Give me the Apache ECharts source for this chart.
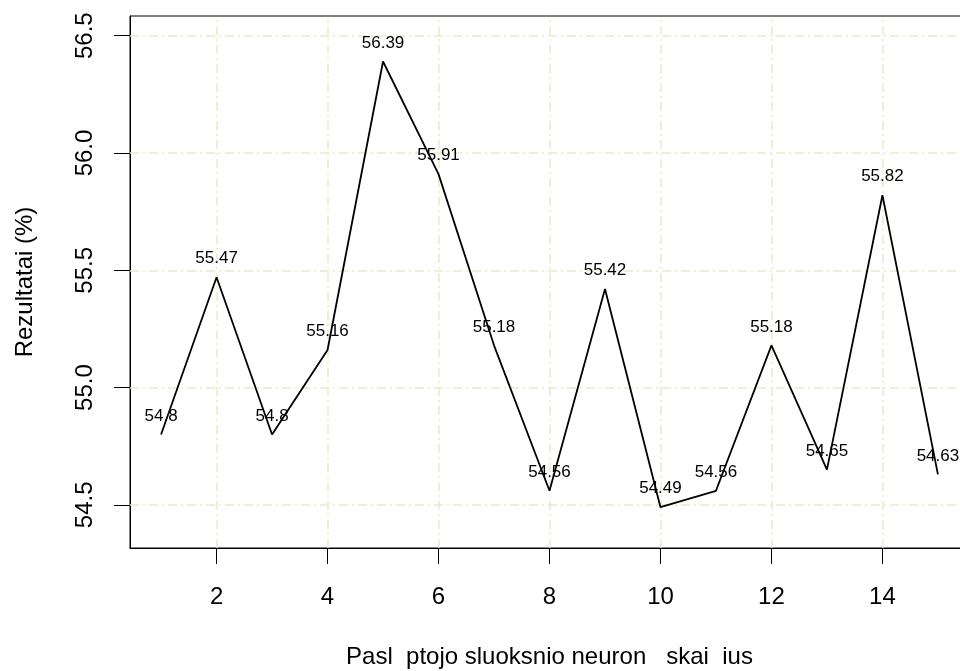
<!DOCTYPE html>
<html>
<head>
<meta charset="utf-8">
<script src="https://cdn.jsdelivr.net/npm/echarts@6/dist/echarts.min.js"></script>
<style>
  html, body { margin: 0; padding: 0; background: #fff; }
  #chart { width: 960px; height: 671px; }
</style>
</head>
<body>
<div id="chart"></div>
<script>
// neuronu skaicius ir rezultatai
const neurons = [1, 2, 3, 4, 5, 6, 7, 8, 9, 10, 11, 12, 13, 14, 15];
const results = [54.8, 55.47, 54.8, 55.16, 56.39, 55.91, 55.18, 54.56, 55.42, 54.49, 54.56, 55.18, 54.65, 55.82, 54.63];
const xTicks = [2, 4, 6, 8, 10, 12, 14];
const yTicks = [54.5, 55.0, 55.5, 56.0, 56.5];

const font = "'Liberation Sans', Arial, sans-serif";
const gridColor = "#eee8cd";

let chart = echarts.init(document.getElementById("chart"));

let gridLines = xTicks.map((v) => ({ xAxis: v })).concat(yTicks.map((v) => ({ yAxis: v })));

chart.setOption({
  animation: false,
  grid: {
    left: 130,
    top: 16,
    width: 839,
    height: 532,
    outerBoundsMode: "none",
    show: true,
    borderColor: "#000",
    borderWidth: 1,
  },
  xAxis: {
    type: "value",
    min: 0.44,
    max: 15.56,
    name: "Pasl  ptojo sluoksnio neuron   skai  ius",
    nameLocation: "middle",
    nameGap: 97,
    nameTextStyle: { color: "#000", fontSize: 24, fontFamily: font },
    axisLine: { show: true, lineStyle: { color: "#000", width: 1 } },
    axisTick: { show: true, length: 16, customValues: xTicks, lineStyle: { color: "#000" } },
    axisLabel: {
      customValues: xTicks,
      color: "#000",
      fontSize: 24,
      fontFamily: font,
      margin: 37,
    },
    splitLine: { show: false },
  },
  yAxis: {
    type: "value",
    min: 54.316,
    max: 56.584,
    name: "Rezultatai (%)",
    nameLocation: "middle",
    nameGap: 93,
    nameTextStyle: { color: "#000", fontSize: 24, fontFamily: font },
    axisLine: { show: true, lineStyle: { color: "#000", width: 1 } },
    axisTick: { show: true, length: 16, customValues: yTicks, lineStyle: { color: "#000" } },
    axisLabel: {
      customValues: yTicks,
      rotate: 90,
      color: "#000",
      fontSize: 24,
      fontFamily: font,
      margin: 33,
      formatter: (v) => v.toFixed(1),
    },
    splitLine: { show: false },
  },
  series: [
    {
      // tinklelis
      type: "line",
      data: [],
      z: 1,
      markLine: {
        silent: true,
        z: 1,
        symbol: "none",
        label: { show: false },
        lineStyle: { color: gridColor, type: [9, 4, 2, 4], width: 1.5 },
        data: gridLines,
      },
    },
    {
      type: "line",
      data: neurons.map((n, i) => [n, results[i]]),
      symbol: "circle",
      symbolSize: 0,
      showSymbol: true,
      lineStyle: { color: "#000", width: 1.8 },
      itemStyle: { color: "#000" },
      label: {
        show: true,
        position: "top",
        distance: 10,
        color: "#000",
        fontSize: 17,
        fontFamily: font,
        formatter: (p) => String(results[p.dataIndex]),
      },
      z: 10,
    },
  ],
});
</script>
</body>
</html>
